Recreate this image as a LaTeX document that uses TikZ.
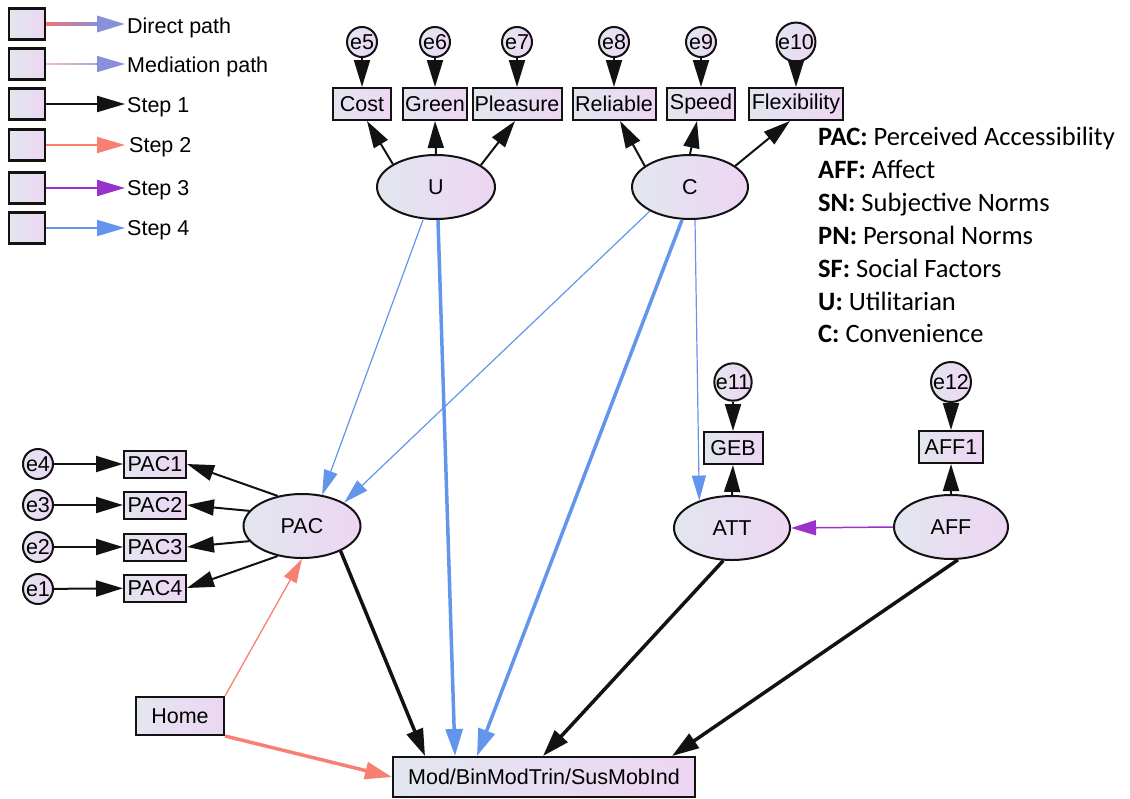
\documentclass[tikz,border=0pt]{standalone}
\usepackage{fontspec}
\setmainfont{Liberation Sans}
\newfontfamily\calfont{Carlito}
\usetikzlibrary{arrows.meta,shapes.geometric,calc}

\definecolor{nodeA}{RGB}{226,230,239}
\definecolor{nodeB}{RGB}{237,214,243}
\definecolor{edgeK}{RGB}{18,18,18}
\definecolor{salmonL}{RGB}{248,128,114}
\definecolor{purpleL}{RGB}{153,51,204}
\definecolor{blueL}{RGB}{100,149,237}
\definecolor{directA}{RGB}{236,120,120}
\definecolor{directB}{RGB}{140,142,214}
\definecolor{medA}{RGB}{246,186,186}
\definecolor{medB}{RGB}{164,170,228}
\definecolor{tipDirect}{RGB}{138,144,216}

\tikzset{
  filled/.style={left color=nodeA, right color=nodeB, draw=edgeK, line width=2pt},
  obs/.style={filled, rectangle, inner xsep=2pt, inner ysep=0pt, minimum height=32pt},
  pacbox/.style={obs, minimum width=62pt, minimum height=27pt},
  lat/.style={filled, ellipse, inner sep=0pt, minimum width=116pt, minimum height=64pt},
  err/.style={filled, circle, inner sep=0pt, minimum size=30pt},
  legbox/.style={filled, rectangle, line width=2.5pt, minimum width=36pt, minimum height=31pt, inner sep=0pt},
  bigtip/.style={-{Triangle[length=27pt,width=16pt]}},
  legtip/.style={-{Triangle[length=28pt,width=16pt]}},
  load/.style={draw=edgeK, line width=2pt, bigtip},
  stepone/.style={draw=edgeK, line width=3.5pt, -{Triangle[length=27pt,width=17pt]}},
  steptwo/.style={draw=salmonL, line width=3.5pt, -{Triangle[length=27pt,width=17pt]}},
  steptwothin/.style={draw=salmonL, line width=1.3pt, -{Triangle[length=24pt,width=14pt]}},
  stepthree/.style={draw=purpleL, line width=1.5pt, -{Triangle[length=25pt,width=15pt]}},
  stepfour/.style={draw=blueL, line width=3.5pt, -{Triangle[length=27pt,width=17pt]}},
  stepfourthin/.style={draw=blueL, line width=1.2pt, -{Triangle[length=25pt,width=14pt]}},
  legtext/.style={anchor=base west, inner sep=0pt},
  deftext/.style={anchor=base west, inner sep=0pt, font=\calfont\fontsize{26.5}{32}\selectfont},
}

\begin{document}
\begin{tikzpicture}[x=1pt, y=-1pt, font=\fontsize{21.5}{24}\selectfont]
\useasboundingbox (0,0) rectangle (1130,798);

% ---------- legend ----------
\foreach \n/\y in {1/24,2/64,3/104,4/145,5/188,6/228}{
  \node[legbox] (sq\n) at (27,\y) {};
  \coordinate (tip\n) at (125,\y);
}
% direct and mediation paths: colour fades from red to blue along the shaft
\foreach \i in {0,...,19}{
  \pgfmathtruncatemacro\p{100-5*\i}
  \draw[line width=3.5pt, draw=directA!\p!directB]
    ($(sq1.east)+(\i*2.5,0)$) -- ($(sq1.east)+(\i*2.5+2.7,0)$);
  \draw[line width=1.5pt, draw=medA!\p!medB]
    ($(sq2.east)+(\i*2.5,0)$) -- ($(sq2.east)+(\i*2.5+2.7,0)$);
}
\draw[line width=3.5pt, draw=tipDirect, legtip] ($(sq1.east)+(50,0)$) -- (tip1);
\draw[line width=1.5pt, draw=tipDirect, legtip] ($(sq2.east)+(50,0)$) -- (tip2);
\draw[line width=2pt, draw=edgeK, legtip] (sq3.east) -- (tip3);
\draw[line width=2pt, draw=salmonL, legtip] (sq4.east) -- (tip4);
\draw[line width=2pt, draw=purpleL, legtip] (sq5.east) -- (tip5);
\draw[line width=2pt, draw=blueL, legtip] (sq6.east) -- (tip6);

\node[legtext] (lt1) at (127,33) {Direct path};
\node[legtext] (lt2) at (127,72) {Mediation path};
\node[legtext] (lt3) at (127,112) {Step 1};
\node[legtext] (lt4) at (129,152) {Step 2};
\node[legtext] (lt5) at (127,195) {Step 3};
\node[legtext] (lt6) at (127,235) {Step 4};

% ---------- abbreviations ----------
\node[deftext] (d1) at (818,145) {\textbf{PAC:} Perceived Accessibility};
\node[deftext] (d2) at (818,178) {\textbf{AFF:} Affect};
\node[deftext] (d3) at (818,211) {\textbf{SN:} Subjective Norms};
\node[deftext] (d4) at (818,244) {\textbf{PN:} Personal Norms};
\node[deftext] (d5) at (818,277) {\textbf{SF:} Social Factors};
\node[deftext] (d6) at (818,310) {\textbf{U:} Utilitarian};
\node[deftext] (d7) at (818,342) {\textbf{C:} Convenience};

% ---------- indicators of U and C ----------
\node[obs, minimum width=58pt] (Cost) at (362,104) {Cost};
\node[obs, minimum width=64pt] (Green) at (435,104) {Green};
\node[obs, minimum width=89pt] (Pleasure) at (517,104) {Pleasure};
\node[obs, minimum width=83pt] (Reliable) at (614,104) {Reliable};
\node[obs, minimum width=68pt] (Speed) at (701,104) {Speed};
\node[obs, minimum width=94pt] (Flexibility) at (796,104) {Flexibility};

\node[err] (e5) at (362,42) {e5};
\node[err] (e6) at (435,42) {e6};
\node[err] (e7) at (517,42) {e7};
\node[err] (e8) at (614,42) {e8};
\node[err] (e9) at (701,42) {e9};
\node[err, minimum size=35pt] (e10) at (796,42) {e10};

\node[lat, minimum width=118pt] (U) at (436,187) {U};
\node[lat] (C) at (690,187) {C};

% ---------- PAC block ----------
\node[lat, minimum width=117pt] (PAC) at (302,526) {PAC};
\node[pacbox] (PAC1) at (155,464) {PAC1};
\node[pacbox] (PAC2) at (155,505) {PAC2};
\node[pacbox] (PAC3) at (155,547) {PAC3};
\node[pacbox] (PAC4) at (155,588) {PAC4};
\node[err] (e4) at (38,464) {e4};
\node[err] (e3) at (38,505) {e3};
\node[err] (e2) at (38,547) {e2};
\node[err] (e1) at (38,589) {e1};

% ---------- ATT and AFF ----------
\node[err, minimum size=36pt] (e11) at (733,382) {e11};
\node[obs, minimum width=59pt] (GEB) at (733,448) {GEB};
\node[lat] (ATT) at (732,528) {ATT};
\node[err, minimum size=40pt] (e12) at (951,382) {e12};
\node[obs, minimum width=64pt] (AFF1) at (951,447) {AFF1};
\node[lat, minimum width=114pt] (AFF) at (951,527) {AFF};

% ---------- exogenous and outcome ----------
\node[obs, minimum width=88pt, minimum height=38pt] (Home) at (180,716) {Home};
\node[obs, minimum width=302pt, minimum height=40pt] (Mod) at (544,777) {Mod/BinModTrin/SusMobInd};

% ---------- measurement paths ----------
\draw[load] (e5) -- (Cost);
\draw[load] (e6) -- (Green);
\draw[load] (e7) -- (Pleasure);
\draw[load] (e8) -- (Reliable);
\draw[load] (e9) -- (Speed);
\draw[load] (e10) -- (Flexibility);
\draw[load] (U.152) -- ([xshift=5pt]Cost.south);
\draw[load] (U.north) -- (Green.south);
\draw[load] (U.26) -- ([xshift=-2pt]Pleasure.south);
\draw[load] (C.155) -- ([xshift=6pt]Reliable.south);
\draw[load] (C.north) -- ([xshift=-4pt]Speed.south);
\draw[load] (C.25) -- ([xshift=-6pt]Flexibility.south);

\draw[load] (e4) -- (PAC1);
\draw[load] (e3) -- (PAC2);
\draw[load] (e2) -- (PAC3);
\draw[load] (e1) -- (PAC4);
\draw[load] (PAC.129) -- (PAC1.east);
\draw[load] (PAC.164) -- (PAC2.east);
\draw[load] (PAC.196) -- (PAC3.east);
\draw[load] (PAC.231) -- (PAC4.east);

\draw[load] (e11) -- (GEB);
\draw[load] (ATT.north) -- (GEB.south);
\draw[load] (e12) -- (AFF1);
\draw[load] (AFF.north) -- (AFF1.south);

% ---------- structural paths ----------
% step 1
\draw[stepone] (PAC.327) -- ([xshift=-119pt]Mod.north);
\draw[stepone] (ATT.255) -- ([xshift=-1pt]Mod.north);
\draw[stepone] (AFF.282) -- ([xshift=128pt]Mod.north);
% step 2
\draw[steptwothin] (Home.north east) -- (PAC.south);
\draw[steptwo] (Home.south east) -- (Mod.west);
% step 3
\draw[stepthree] (AFF.west) -- (ATT.east);
% step 4
\draw[stepfourthin] ([xshift=-13pt]U.south) -- (PAC.57);
\draw[stepfourthin] (C.211) -- (PAC.29);
\draw[stepfourthin] ([xshift=5pt]C.south) -- (ATT.140);
\draw[stepfour] ([xshift=2pt]U.south) -- ([xshift=-89pt]Mod.north);
\draw[stepfour] ([xshift=-8pt]C.south) -- ([xshift=-67pt]Mod.north);
\end{tikzpicture}
\end{document}
